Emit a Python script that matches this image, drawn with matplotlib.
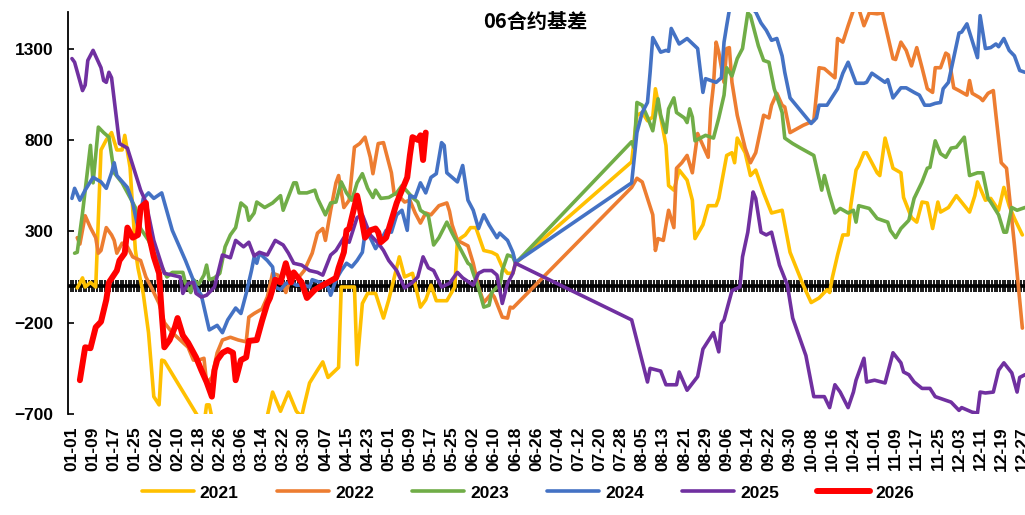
import datetime as dt
import numpy as np
import matplotlib
matplotlib.use("Agg")
import matplotlib.pyplot as plt

# Basis of the 06 contract by calendar day (day 0 = 01-01), one series per year
doy_2021 = [2, 4, 5, 7, 9, 11, 13, 15, 17, 19, 20, 22, 24, 25, 27, 29, 31, 33, 34, 35,
            48, 50, 51, 52, 53, 56, 65, 72, 74, 76, 79, 82, 85, 87, 88, 90, 93, 95, 97, 101,
            102, 107, 108, 110, 112, 115, 118, 120, 124, 126, 129, 132, 134, 136, 138, 142, 145, 146, 149, 151,
            153, 156, 159, 161, 163, 165, 167, 168, 212, 214, 216, 218, 220, 221, 222, 225, 226, 228, 230, 233,
            235, 236, 239, 241, 244, 245, 248, 250, 251, 252, 255, 257, 259, 262, 265, 269, 272, 277, 280, 283,
            284, 286, 287, 288, 290, 292, 294, 295, 297, 298, 300, 301, 305, 306, 308, 311, 314, 315, 318, 320,
            322, 324, 326, 328, 329, 332, 335, 340, 342, 343, 346, 348, 351, 353, 355, 357, 360]
val_2021 = [-10, 45, -5, 20, -5, 745, 800, 840, 745, 745, 825, 650, 200, 100, -40, -255, -605, -650, -405, -410,
            -720, -760, -650, -650, -720, -800, -850, -780, -710, -580, -685, -580, -685, -715, -650, -530, -460, -415, -500, -445,
            -5, -5, -430, -95, -40, -40, -175, -75, 160, 50, 70, -115, -75, 5, -80, -80, -5, 250, 280, 320,
            320, 195, 185, 170, 105, 70, 70, 125, 680, 935, 950, 905, 925, 1080, 1005, 770, 550, 525, 635, 580,
            470, 260, 335, 440, 440, 480, 715, 730, 675, 810, 730, 605, 635, 510, 400, 415, 185, 5, -90, -65,
            -50, -20, -35, 45, 170, 280, 280, 440, 635, 660, 730, 730, 620, 605, 810, 645, 620, 485, 375, 350,
            460, 455, 315, 460, 405, 430, 495, 405, 495, 570, 470, 480, 415, 540, 440, 370, 280]

doy_2022 = [2, 3, 5, 7, 9, 10, 11, 13, 15, 16, 17, 19, 21, 23, 26, 28, 30, 33, 35, 38,
            41, 44, 46, 48, 50, 51, 53, 55, 57, 60, 63, 66, 67, 69, 72, 74, 76, 78, 80, 81,
            83, 86, 88, 91, 93, 95, 96, 98, 100, 101, 103, 105, 107, 109, 111, 113, 114, 116, 118, 121,
            122, 124, 126, 128, 130, 132, 134, 136, 139, 142, 143, 144, 146, 148, 150, 152, 154, 156, 159, 160,
            163, 165, 166, 167, 212, 214, 216, 218, 220, 221, 222, 224, 226, 228, 229, 231, 233, 235, 237, 239,
            241, 242, 243, 244, 245, 247, 248, 249, 250, 252, 255, 257, 259, 262, 264, 265, 267, 269, 270, 272,
            277, 281, 283, 285, 289, 290, 292, 294, 296, 298, 300, 302, 305, 307, 309, 311, 312, 314, 316, 318,
            320, 322, 324, 326, 327, 329, 331, 332, 334, 336, 339, 340, 341, 344, 345, 347, 349, 350, 352, 354,
            357, 360]
val_2022 = [265, 230, 385, 320, 265, 180, 195, 320, 280, 250, 180, 235, 215, 160, 140, 50, -5, -95, -200, -255,
            -295, -335, -405, -405, -395, -530, -500, -365, -295, -280, -295, -305, -170, -150, -125, -60, 70, 60, 15, -35,
            50, 50, 85, 180, 290, 315, 250, 415, 565, 605, 430, 470, 760, 780, 815, 705, 615, 780, 785, 620,
            510, 490, 460, 470, 400, 345, 400, 390, 440, 455, 410, 335, 250, 235, 220, 125, -5, -90, -40, -60,
            -170, -175, -115, -120, 540, 590, 570, 480, 390, 195, 260, 250, 415, 320, 645, 675, 715, 620, 835, 770,
            705, 970, 1100, 1335, 1280, 1115, 1300, 1305, 1115, 935, 755, 675, 730, 935, 920, 990, 1055, 990, 980, 840,
            880, 905, 1195, 1190, 1140, 1355, 1335, 1425, 1510, 1520, 1425, 1495, 1490, 1495, 1370, 1245, 1240, 1335, 1290, 1205,
            1305, 1195, 1080, 1060, 1195, 1195, 1275, 1265, 1085, 1070, 1045, 1125, 1055, 1030, 1015, 1055, 1070, 935, 675, 645,
            225, -230]

doy_2023 = [1, 2, 4, 7, 8, 10, 12, 14, 16, 19, 22, 24, 26, 29, 31, 34, 36, 38, 42, 43,
            45, 46, 48, 50, 51, 52, 54, 56, 58, 60, 62, 64, 66, 67, 69, 70, 73, 76, 79, 80,
            84, 85, 86, 89, 92, 93, 96, 98, 100, 102, 104, 106, 108, 110, 112, 114, 115, 117, 120, 123,
            125, 129, 131, 132, 135, 137, 139, 142, 144, 146, 150, 151, 152, 154, 156, 158, 159, 161, 162, 163,
            165, 167, 168, 212, 213, 214, 216, 218, 220, 222, 223, 225, 226, 228, 229, 232, 233, 234, 235, 236,
            240, 243, 245, 247, 248, 250, 252, 254, 256, 257, 260, 262, 264, 266, 269, 270, 273, 276, 281, 283,
            284, 285, 287, 289, 291, 294, 296, 297, 298, 302, 305, 309, 310, 312, 314, 317, 319, 322, 324, 325,
            327, 329, 331, 333, 335, 338, 340, 343, 345, 347, 348, 351, 353, 354, 356, 358, 361]
val_2023 = [180, 185, 400, 770, 565, 870, 840, 815, 620, 565, 485, 430, 315, 250, 180, 105, 50, 75, 75, 15,
            -35, 35, 10, 60, 115, 35, 45, 70, 215, 280, 320, 455, 430, 360, 400, 460, 430, 455, 495, 415,
            565, 565, 510, 510, 525, 480, 390, 455, 460, 570, 510, 470, 565, 615, 535, 485, 525, 480, 485, 510,
            550, 485, 460, 415, 385, 225, 265, 350, 290, 235, 125, 115, 70, -10, -115, -105, -35, -5, -10, 85,
            170, 160, 125, 790, 755, 1005, 990, 925, 850, 1025, 935, 840, 970, 1030, 950, 920, 895, 970, 925, 795,
            825, 810, 920, 1045, 1195, 1150, 1245, 1300, 1495, 1480, 1315, 1235, 1225, 1080, 950, 810, 780, 755, 715, 590,
            525, 605, 495, 400, 425, 400, 415, 350, 440, 425, 370, 350, 305, 265, 315, 360, 480, 570, 645, 650,
            795, 725, 705, 755, 760, 815, 605, 620, 620, 480, 460, 390, 295, 295, 430, 415, 430]

doy_2024 = [0, 1, 3, 5, 8, 11, 13, 15, 16, 17, 21, 23, 25, 27, 29, 31, 34, 38, 43, 47,
            49, 52, 55, 57, 59, 62, 64, 66, 68, 69, 70, 71, 74, 76, 77, 79, 81, 83, 85, 88,
            90, 91, 95, 97, 98, 100, 102, 104, 106, 108, 110, 111, 113, 115, 117, 119, 121, 123, 125, 127,
            128, 130, 132, 134, 136, 138, 140, 141, 142, 146, 148, 150, 152, 154, 156, 158, 161, 162, 165, 167,
            168, 212, 214, 216, 218, 219, 220, 223, 225, 226, 227, 230, 233, 237, 239, 240, 244, 246, 247, 248,
            249, 252, 256, 259, 261, 263, 265, 267, 269, 270, 272, 280, 282, 283, 286, 290, 292, 294, 297, 300,
            301, 303, 306, 308, 309, 311, 314, 316, 319, 321, 323, 325, 327, 329, 330, 332, 334, 336, 337, 339,
            343, 344, 346, 348, 350, 351, 353, 355, 357, 359, 361]
val_2024 = [480, 535, 470, 525, 595, 570, 535, 620, 675, 605, 540, 455, 320, 480, 510, 480, 510, 305, 140, -5,
            -50, -240, -215, -255, -185, -120, -150, -40, 85, 158, 125, 180, 140, 105, -5, -20, 15, 20, 5, 5,
            -5, 35, 15, -5, -50, 35, 85, 125, 105, 140, 185, 290, 265, 205, 250, 305, 295, 390, 415, 305,
            495, 485, 565, 510, 595, 615, 785, 770, 620, 570, 660, 470, 415, 315, 390, 335, 265, 290, 250, 185,
            130, 565, 840, 950, 1005, 1170, 1360, 1280, 1290, 1285, 1410, 1325, 1355, 1300, 1060, 1135, 1115, 1140, 1335, 1425,
            1510, 1560, 1540, 1500, 1440, 1400, 1345, 1355, 1260, 1170, 1030, 890, 920, 990, 990, 1080, 1165, 1225, 1110, 1110,
            1115, 1165, 1135, 1115, 1130, 1030, 1085, 1085, 1060, 1045, 990, 990, 1000, 1005, 1080, 1115, 1250, 1385, 1390, 1435,
            1250, 1480, 1300, 1305, 1325, 1310, 1355, 1290, 1260, 1180, 1170]

doy_2025 = [0, 1, 4, 5, 6, 8, 11, 12, 13, 14, 15, 18, 21, 26, 28, 31, 35, 38, 41, 42,
            44, 46, 47, 49, 51, 54, 57, 60, 62, 65, 67, 69, 71, 74, 77, 80, 82, 84, 87, 90,
            93, 95, 98, 100, 103, 105, 108, 110, 113, 116, 118, 120, 123, 126, 129, 131, 133, 135, 137, 140,
            143, 146, 148, 152, 154, 156, 159, 161, 163, 165, 167, 168, 212, 218, 219, 223, 225, 229, 230, 233,
            237, 239, 243, 245, 246, 247, 250, 253, 254, 256, 258, 259, 261, 263, 265, 268, 271, 273, 278, 281,
            283, 285, 287, 289, 291, 294, 296, 297, 300, 301, 304, 308, 311, 314, 315, 317, 319, 322, 325, 327,
            330, 333, 334, 336, 337, 341, 343, 344, 346, 349, 351, 353, 356, 358, 359, 361]
val_2025 = [1245, 1225, 1070, 1100, 1235, 1290, 1195, 1125, 1115, 1170, 1140, 780, 755, 525, 460, 250, 70, 60, 50, -40,
            15, 20, -40, -60, -50, -5, 170, 155, 250, 215, 240, 165, 185, 170, 250, 225, 180, 125, 115, 85,
            75, 60, 170, 195, 265, 240, 375, 390, 280, 235, 195, 140, 85, -10, 20, 50, 160, 100, 85, -5,
            15, 75, 45, 5, 70, 85, 85, 60, -95, 15, 70, 125, -185, -525, -450, -465, -540, -540, -470, -570,
            -495, -345, -255, -360, -205, -185, -25, -5, 160, 295, 515, 480, 295, 280, 295, 115, 5, -175, -380, -605,
            -605, -605, -665, -540, -580, -665, -580, -515, -395, -525, -515, -530, -365, -420, -470, -485, -525, -560, -560, -605,
            -620, -635, -650, -680, -665, -690, -695, -580, -585, -580, -460, -420, -475, -580, -500, -485]

doy_2026 = [3, 5, 7, 9, 11, 13, 14, 17, 18, 20, 21, 23, 25, 26, 28, 29, 31, 33, 34, 35,
            37, 39, 40, 42, 44, 47, 49, 51, 53, 54, 55, 57, 59, 61, 62, 64, 66, 67, 70, 72,
            74, 75, 77, 79, 81, 83, 84, 87, 89, 92, 95, 97, 100, 101, 103, 104, 105, 106, 108, 109,
            111, 113, 115, 116, 117, 119, 121, 123, 125, 127, 128, 129, 131, 132, 133, 134]
val_2026 = [-515, -335, -340, -225, -195, -75, 20, 85, 140, 180, 320, 265, 280, 430, 455, 290, 160, 70, -150, -335,
            -295, -225, -175, -270, -310, -390, -460, -525, -605, -460, -405, -365, -350, -365, -515, -405, -390, -300, -295, -190,
            -95, -65, 35, 20, 125, 20, 75, 20, -65, -20, 5, 20, 45, 100, 185, 305, 315, 375, 495, 430,
            265, 305, 315, 295, 240, 265, 360, 455, 525, 595, 715, 815, 800, 825, 690, 840]

years = ["2021", "2022", "2023", "2024", "2025", "2026"]
series_days = [doy_2021, doy_2022, doy_2023, doy_2024, doy_2025, doy_2026]
series_vals = [val_2021, val_2022, val_2023, val_2024, val_2025, val_2026]
colors = ["#FFC000", "#ED7D31", "#70AD47", "#4472C4", "#7030A0", "#FF0000"]
widths = [2.6, 2.6, 2.6, 2.6, 2.6, 4.3]

title = "06合约基差"
y_ticks = [-700, -200, 300, 800, 1300]
tick_step = 8
last_tick = 360
base_day = dt.date(2021, 1, 1)

plt.rcParams["font.family"] = ["Liberation Sans", "DejaVu Sans"]
plt.rcParams["font.weight"] = "bold"

fig = plt.figure(figsize=(10.25, 5.15), dpi=100)
ax = fig.add_axes([68 / 1025, 101 / 515, 957 / 1025, 402 / 515])

# Horizontal category axis crossing at zero, with a tick mark on every day
tick_days = np.arange(-1, 362) + 0.5
ax.vlines(tick_days, -33, 33, colors="black", linewidth=1.25, zorder=1)
ax.axhline(0, color="black", linewidth=2.6, zorder=1)

for yr, d, v, c, w in zip(years, series_days, series_vals, colors, widths):
    ax.plot(d, v, color=c, linewidth=w, label=yr, solid_joinstyle="round",
            solid_capstyle="round", zorder=3)

ax.set_xlim(-1.5, 361)
ax.set_ylim(-700, 1500)

xt = np.arange(0, last_tick + 1, tick_step)
ax.set_xticks(xt)
ax.set_xticklabels([(base_day + dt.timedelta(days=int(d))).strftime("%m-%d") for d in xt],
                   rotation=90, fontsize=12.5, fontweight="bold")
ax.tick_params(axis="x", length=0, pad=9)
ax.set_yticks(y_ticks)
ax.set_yticklabels([f"{t}".replace("-", "\u2212") for t in y_ticks], fontsize=12.5, fontweight="bold")
ax.tick_params(axis="y", direction="in", length=4, width=1.2, pad=10.5)

for s in ["top", "right", "bottom"]:
    ax.spines[s].set_visible(False)
ax.spines["left"].set_linewidth(1.3)

fig.text(535 / 1025, 1 - 21 / 515, title, ha="center", va="center", fontsize=14.5,
         fontweight="bold", family=["Noto Sans CJK SC", "DejaVu Sans"])

fig.legend(loc="center", bbox_to_anchor=(528 / 1025, 1 - 493 / 515), ncol=6, frameon=False,
           handlelength=3.0, handletextpad=0.35, columnspacing=2.2,
           prop={"weight": "bold", "size": 12.5})

fig.savefig("out.png", dpi=100)
